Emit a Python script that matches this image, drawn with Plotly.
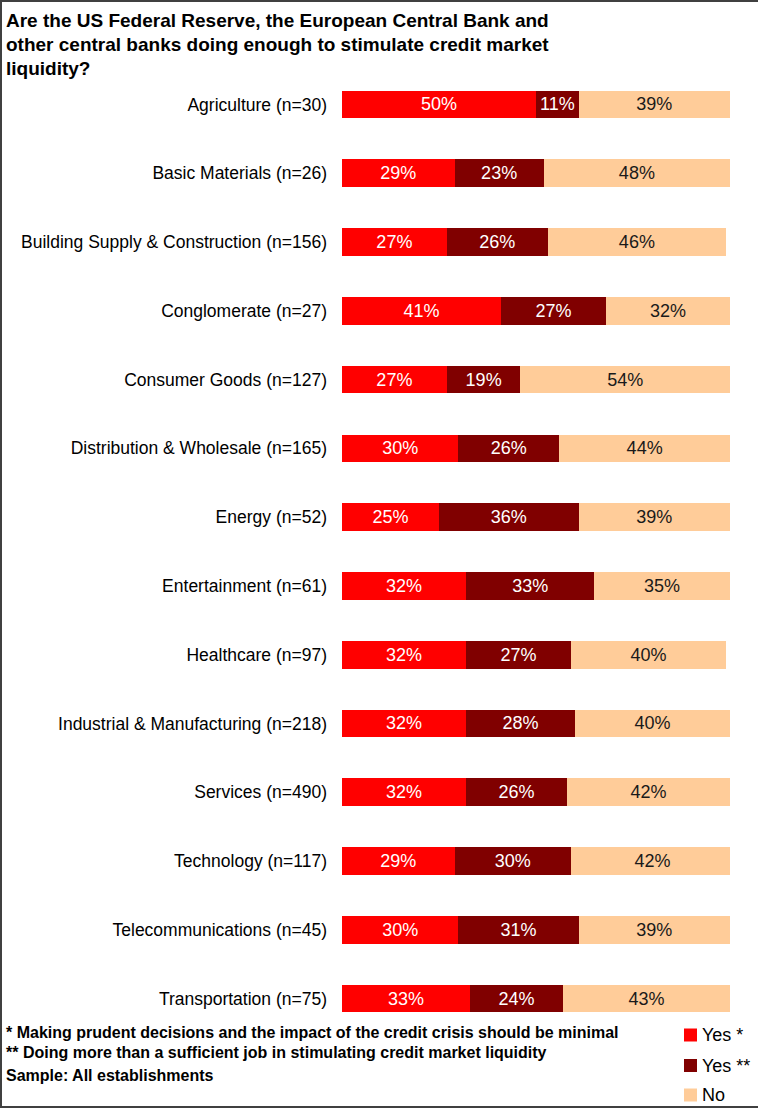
import plotly.graph_objects as go

# Survey question and sector breakdown
title_lines = [
    "Are the US Federal Reserve, the European Central Bank and",
    "other central banks doing enough to stimulate credit market",
    "liquidity?",
]
categories = [
    "Agriculture (n=30)",
    "Basic Materials (n=26)",
    "Building Supply & Construction (n=156)",
    "Conglomerate (n=27)",
    "Consumer Goods (n=127)",
    "Distribution & Wholesale (n=165)",
    "Energy (n=52)",
    "Entertainment (n=61)",
    "Healthcare (n=97)",
    "Industrial & Manufacturing (n=218)",
    "Services (n=490)",
    "Technology (n=117)",
    "Telecommunications (n=45)",
    "Transportation (n=75)",
]
yes_minimal = [50, 29, 27, 41, 27, 30, 25, 32, 32, 32, 32, 29, 30, 33]
yes_more = [11, 23, 26, 27, 19, 26, 36, 33, 27, 28, 26, 30, 31, 24]
no_vals = [39, 48, 46, 32, 54, 44, 39, 35, 40, 40, 42, 42, 39, 43]

series_names = ["Yes *", "Yes **", "No"]
series_colors = ["#FF0000", "#800000", "#FFCC99"]
text_colors = ["#FFFFFF", "#FFFFFF", "#1A1A1A"]

footnotes = [
    "* Making prudent decisions and the impact of the credit crisis should be minimal",
    "** Doing more than a sufficient job in stimulating credit market liquidity",
    "Sample: All establishments",
]

W, H = 758, 1110
M_L, M_R, M_T, M_B = 342, 28, 70, 77
PW = W - M_L - M_R
PH = H - M_T - M_B


def px_x(px):
    return (px - M_L) / PW


def px_y(py):
    return (H - M_B - py) / PH


FONT = "Liberation Sans, Arial, sans-serif"

fig = go.Figure()
for name, vals, col, tcol in zip(series_names, [yes_minimal, yes_more, no_vals],
                                 series_colors, text_colors):
    fig.add_trace(go.Bar(
        y=categories, x=vals, name=name, orientation="h",
        marker=dict(color=col, line=dict(width=0)),
        texttemplate="%{x}%", textposition="inside", insidetextanchor="middle",
        textangle=0, textfont=dict(color=tcol, size=18, family=FONT),
        showlegend=False, hoverinfo="skip",
    ))

annotations = []
# title, one annotation per line
for i, line in enumerate(title_lines):
    annotations.append(dict(
        text="<b>%s</b>" % line, xref="paper", yref="paper",
        x=px_x(4), y=px_y(20 + 24 * i), xanchor="left", yanchor="middle",
        showarrow=False, font=dict(size=19, color="#000000", family=FONT),
    ))
# footnotes
for line, cy in zip(footnotes, [1032, 1052, 1075]):
    annotations.append(dict(
        text="<b>%s</b>" % line, xref="paper", yref="paper",
        x=px_x(4), y=px_y(cy), xanchor="left", yanchor="middle",
        showarrow=False, font=dict(size=16, color="#000000", family=FONT),
    ))

shapes = []
# legend swatches and labels
for name, col, cy in zip(series_names, series_colors, [1035, 1065.5, 1095]):
    shapes.append(dict(
        type="rect", xref="paper", yref="paper",
        x0=px_x(684), x1=px_x(697), y0=px_y(cy - 6.5), y1=px_y(cy + 6.5),
        fillcolor=col, line=dict(width=0),
    ))
    annotations.append(dict(
        text=name, xref="paper", yref="paper",
        x=px_x(700), y=px_y(cy), xanchor="left", yanchor="middle",
        showarrow=False, font=dict(size=18, color="#000000", family=FONT),
    ))
# outer frame
shapes.append(dict(
    type="rect", xref="paper", yref="paper",
    x0=px_x(1), x1=px_x(762), y0=px_y(1), y1=px_y(1107),
    line=dict(color="#404040", width=2), fillcolor="rgba(0,0,0,0)",
))

fig.update_layout(
    width=W, height=H,
    margin=dict(l=M_L, r=M_R, t=M_T, b=M_B, autoexpand=False),
    barmode="stack", bargap=0.598,
    paper_bgcolor="#FFFFFF", plot_bgcolor="#FFFFFF",
    showlegend=False,
    uniformtext=dict(minsize=18, mode="show"),
    xaxis=dict(range=[0, 100], visible=False, fixedrange=True),
    yaxis=dict(
        categoryorder="array", categoryarray=categories,
        autorange="reversed", showgrid=False, zeroline=False, showline=False,
        ticks="", ticklabelstandoff=14,
        tickfont=dict(size=17.5, color="#000000", family=FONT),
    ),
    annotations=annotations, shapes=shapes,
)

fig.write_html("out.html")
